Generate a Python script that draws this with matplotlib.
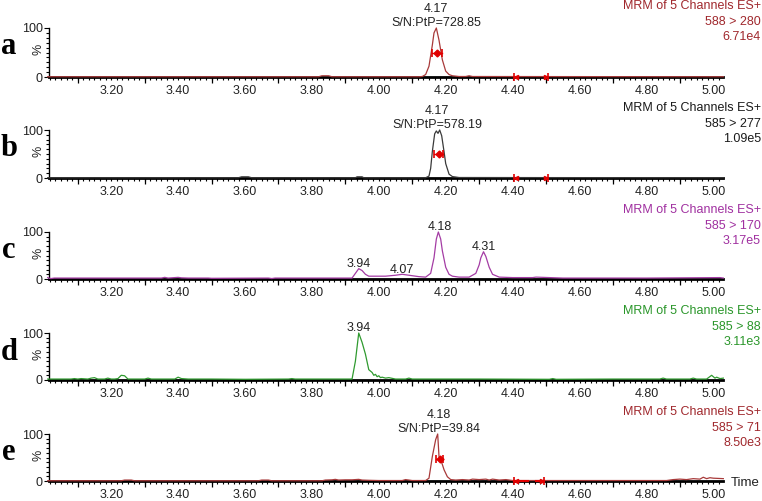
import matplotlib
matplotlib.use("Agg")
import matplotlib.pyplot as plt
from matplotlib.ticker import FixedLocator, NullFormatter

plt.rcParams['font.family'] = ['Liberation Sans', 'DejaVu Sans']

# ---------------- data ----------------
panel_letters = ['a', 'b', 'c', 'd', 'e']
channel_title = 'MRM of 5 Channels ES+'
transitions = ['588 > 280', '585 > 277', '585 > 170', '585 > 88', '585 > 71']
max_intensity = ['6.71e4', '1.09e5', '3.17e5', '3.11e3', '8.50e3']

t_a = [3.01, 3.82, 3.83, 3.85, 3.86, 4.12, 4.13, 4.14, 4.15, 4.16, 4.165, 4.172, 4.18,
       4.19, 4.20, 4.21, 4.22, 4.24, 4.26, 4.27, 4.28, 5.03]
i_a = [0.5, 0.5, 2.5, 2.5, 0.5, 0.5, 1, 5, 22, 65, 90, 100, 75,
       35, 12, 5, 2.5, 1, 1, 2.5, 1, 0.5]

t_b = [3.01, 3.58, 3.59, 3.61, 3.62, 3.93, 3.935, 3.95, 3.955, 4.14, 4.15, 4.155, 4.16,
       4.167, 4.172, 4.177, 4.182, 4.188, 4.195, 4.20, 4.21, 4.22, 4.23, 4.24, 5.03]
i_b = [0.5, 0.5, 2.5, 2.5, 0.5, 0.5, 2.5, 2.5, 0.5, 0.5, 4, 20, 55,
       92, 98, 93, 100, 88, 55, 30, 8, 3, 2, 1, 0.5]

t_c = [3.01, 3.015, 3.02, 3.03, 3.04, 3.35, 3.36, 3.37, 3.40, 3.41, 3.43, 3.49, 3.50,
       3.67, 3.68, 3.69, 3.92, 3.93, 3.94, 3.95, 3.96, 3.97, 3.99, 4.02, 4.05, 4.07,
       4.09, 4.12, 4.14, 4.155, 4.165, 4.172, 4.178, 4.185, 4.19, 4.20, 4.21, 4.22,
       4.24, 4.27, 4.29, 4.30, 4.305, 4.313, 4.32, 4.33, 4.34, 4.36, 4.40, 4.46,
       4.47, 4.55, 4.60, 4.80, 5.02, 5.03]
i_c = [3, 1.5, 1, 2, 2, 2, 3.5, 2, 3.5, 2.5, 2, 2, 1.5,
       2, 1, 2, 2, 12, 22, 18, 10, 6, 6, 6, 8, 10,
       8, 5, 4, 12, 45, 85, 100, 85, 60, 25, 10, 6,
       4, 4, 12, 30, 45, 58, 48, 25, 10, 4, 3, 3,
       4, 2, 2, 2, 3, 2]

t_d = [3.01, 3.05, 3.08, 3.09, 3.10, 3.11, 3.13, 3.14, 3.15, 3.16, 3.18, 3.19, 3.20,
       3.21, 3.22, 3.23, 3.24, 3.25, 3.27, 3.30, 3.31, 3.32, 3.38, 3.39, 3.40, 3.41,
       3.43, 3.50, 3.60, 3.73, 3.74, 3.75, 3.92, 3.93, 3.94, 3.95, 3.96, 3.97, 3.98,
       3.985, 3.99, 3.995, 4.00, 4.005, 4.01, 4.02, 4.03, 4.05, 4.08, 4.09, 4.10,
       4.20, 4.30, 4.51, 4.52, 4.53, 4.70, 4.84, 4.85, 4.86, 4.93, 4.94, 4.95, 4.98,
       4.995, 5.005, 5.01, 5.02, 5.03]
i_d = [2, 2, 2, 3, 2, 3, 2, 4, 5, 2, 2, 4, 2,
       2, 3, 10, 9, 2, 2, 2, 4, 2, 2, 2, 6, 3,
       2, 2, 1.5, 2, 3, 2, 2, 40, 100, 80, 55, 22, 16,
       10, 12, 7, 9, 5, 6, 4, 5, 2, 2, 4, 2,
       2, 2, 1.5, 3, 1.5, 2, 2, 4, 2, 2, 4, 2, 2,
       10, 4, 6, 3, 4]

t_e = [3.01, 3.23, 3.24, 3.26, 3.27, 3.64, 3.65, 3.67, 3.68, 3.83, 3.84, 3.86, 3.87,
       3.88, 3.90, 3.92, 3.94, 3.95, 3.97, 4.00, 4.07, 4.08, 4.10, 4.14, 4.15,
       4.16, 4.17, 4.176, 4.18, 4.185, 4.19, 4.195, 4.205, 4.215, 4.23, 4.25, 4.27,
       4.28, 4.30, 4.32, 4.33, 4.34, 4.36, 4.38, 4.40, 4.50, 4.55, 4.60, 4.86, 4.88,
       4.90, 4.92, 4.94, 4.96, 4.97, 4.98, 4.99, 5.00, 5.03]
i_e = [0.5, 0.5, 2, 2, 0.5, 0.5, 2, 2, 0.5, 0.5, 2, 2.5, 3.5,
       2, 2.5, 2.5, 3.5, 2, 1.5, 1, 1, 3, 1, 1, 6,
       52, 88, 100, 52, 45, 35, 24, 9, 3, 2, 3, 2,
       4, 3, 4, 2, 4, 2, 3, 1, 1, 1, 1, 1, 3,
       4, 3, 5, 4, 8, 5, 7, 6, 5]

times = [t_a, t_b, t_c, t_d, t_e]
intens = [i_a, i_b, i_c, i_d, i_e]

# peak labels: (rt, intensity, text)
peak_labels = [
    [(4.172, 100, '4.17\nS/N:PtP=728.85')],
    [(4.175, 100, '4.17\nS/N:PtP=578.19')],
    [(3.94, 22, '3.94'), (4.07, 10, '4.07'), (4.182, 100, '4.18'), (4.313, 58, '4.31')],
    [(3.94, 100, '3.94')],
    [(4.18, 100, '4.18\nS/N:PtP=39.84')],
]
# integration markers (start, end, height) ; None when absent
integration = [(4.158, 4.188, 50), (4.166, 4.193, 51), None, None, (4.171, 4.193, 47)]
# noise window markers (start, end)
noise_window = [(4.405, 4.505), (4.405, 4.505), None, None, (4.405, 4.495)]

line_colors = ['#a83a3a', '#3a3a3a', '#a43ca4', '#2f9a2f', '#a83a3a']
text_colors = ['#a0282d', '#1a1a1a', '#a030a0', '#2a962a', '#a0282d']

label_ticks = [3.2, 3.4, 3.6, 3.8, 4.0, 4.2, 4.4, 4.6, 4.8, 5.0]
long_ticks = [3.1, 3.3, 3.5, 3.7, 3.9, 4.1, 4.3, 4.5, 4.7, 4.9]
minor_ticks = [3.0 + k * (0.2 / 12) for k in range(1, 122)]

# ---------------- layout ----------------
W, H = 762, 501
fig = plt.figure(figsize=(W / 100, H / 100), dpi=100)
tops = [28, 130, 232, 333, 434]
bots = [77, 178, 279, 380, 481]
xl, xr = 49, 723
red = '#e00000'
fs = 9

for k in range(5):
    ax = fig.add_axes([xl / W, 1 - bots[k] / H, (xr - xl) / W, (bots[k] - tops[k]) / H])
    ax.plot(times[k], intens[k], color=line_colors[k], lw=0.9, clip_on=False, zorder=3)
    ax.set_xlim(3.014, 5.029)
    ax.set_ylim(0, 100)
    for s in ['top', 'right']:
        ax.spines[s].set_visible(False)
    ax.spines['bottom'].set_linewidth(2.0)
    ax.spines['left'].set_linewidth(1.0)
    ax.spines['bottom'].set_zorder(2)

    ax.xaxis.set_major_locator(FixedLocator(label_ticks))
    ax.set_xticklabels(['%.2f' % v for v in label_ticks])
    ax.xaxis.set_minor_locator(FixedLocator(minor_ticks))
    ax.tick_params(axis='x', which='major', direction='out', length=2.5, width=0.8,
                   pad=3, labelsize=fs, labelcolor='#222222')
    ax.tick_params(axis='x', which='minor', direction='out', length=2.5, width=0.8)
    sec = ax.secondary_xaxis('bottom')
    sec.set_xticks(long_ticks)
    sec.xaxis.set_major_formatter(NullFormatter())
    sec.tick_params(axis='x', direction='out', length=4.5, width=0.9)
    sec.spines['bottom'].set_visible(False)

    ax.yaxis.set_major_locator(FixedLocator([0, 100]))
    ax.set_yticklabels(['0', '100'])
    ax.yaxis.set_minor_locator(FixedLocator([10, 20, 30, 40, 50, 60, 70, 80, 90]))
    ax.tick_params(axis='y', which='major', direction='out', length=3.5, width=0.8,
                   pad=1, labelsize=fs, labelcolor='#222222')
    ax.tick_params(axis='y', which='minor', direction='out', length=2.2, width=0.8)

    # percent label
    fig.text(39 / W, 1 - (tops[k] + 21) / H, '%', rotation=90, ha='center', va='center',
             fontsize=fs, color='#222222')
    # panel letter
    fig.text(9 / W, 1 - (tops[k] + 19) / H, panel_letters[k], ha='center', va='center',
             fontsize=22, fontweight='bold', family=['Liberation Serif', 'DejaVu Serif'])
    # header
    fig.text(761 / W, 1 - (tops[k] - 28) / H,
             channel_title + '\n' + transitions[k] + '\n' + max_intensity[k],
             ha='right', va='top', fontsize=fs, color=text_colors[k], linespacing=1.4,
             multialignment='right')

    for (rt, h, txt) in peak_labels[k]:
        ax.annotate(txt, (rt, h), xytext=(0, -1), textcoords='offset points',
                    ha='center', va='bottom', fontsize=fs, color='#222222',
                    linespacing=1.3, annotation_clip=False)

    if integration[k] is not None:
        x0, x1, y = integration[k]
        ax.plot([x0, x1], [y, y], color=red, lw=1, marker='|', ms=6, mew=1.2,
                clip_on=False, zorder=4)
        ax.plot([(x0 + x1) / 2], [y], color=red, marker='D', ms=3.5, zorder=5)
    if noise_window[k] is not None:
        n0, n1 = noise_window[k]
        ax.plot([n0, n1], [1, 1], color=red, lw=0, marker='|', ms=6, mew=1.2,
                clip_on=False, zorder=4)
        ax.plot([n0 + 0.006], [1], color=red, marker='<', ms=3, clip_on=False, zorder=4)
        ax.plot([n1 - 0.006], [1], color=red, marker='>', ms=3, clip_on=False, zorder=4)
        if k == 4:
            ax.plot([n0, n0 + 0.04], [1, 1], color=red, lw=1.5, clip_on=False, zorder=4)
            ax.plot([n1 - 0.025, n1], [1, 1], color=red, lw=1.5, clip_on=False, zorder=4)

fig.text(731 / W, 1 - 483 / H, 'Time', ha='left', va='center', fontsize=fs + 0.5,
         color='#222222')

fig.savefig('out.png', dpi=100)
